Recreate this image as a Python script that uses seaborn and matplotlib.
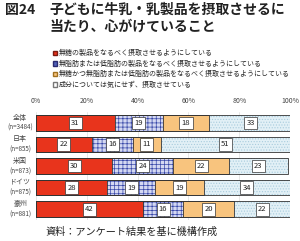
import matplotlib
matplotlib.use("Agg")
import matplotlib.pyplot as plt
import seaborn as sns
import numpy as np
import pandas as pd
from matplotlib.patches import Patch

countries = ["全体", "日本", "米国", "ドイツ", "豪州"]
n_labels = ["(n=3484)", "(n=855)", "(n=873)", "(n=875)", "(n=881)"]
s1 = [31, 22, 30, 28, 42]
s2 = [19, 16, 24, 19, 16]
s3 = [18, 11, 22, 19, 20]
s4 = [33, 51, 23, 34, 22]
series_names = [
    "無糖の製品をなるべく摂取させるようにしている",
    "無脂肪または低脂肪の製品をなるべく摂取させるようにしている",
    "無糖かつ無脂肪または低脂肪の製品をなるべく摂取させるようにしている",
    "成分については気にせず、摂取させている",
]
ticks = [0, 20, 40, 60, 80, 100]
tick_labels = ["0%", "20%", "40%", "60%", "80%", "100%"]

sns.set_theme(style="white")
plt.rcParams['font.family'] = ['Noto Sans CJK JP', 'DejaVu Sans']
plt.rcParams['hatch.linewidth'] = 0.5

fig = plt.figure(figsize=(3.0, 2.41), dpi=100)
ax = fig.add_axes([0.12, 0.087, 0.847, 0.448])

vals = np.array([s1, s2, s3, s4], dtype=float)
cum = np.cumsum(vals, axis=0)
face = ["#E8341C", "#D4D8F2", "#F8C47E", "#E2F0F6"]
hatchc = [None, "#3646A8", None, "#A9CCDD"]
hatches = [None, "++++", None, "......"]

# draw from back to front (cumulative)
for k in range(3, -1, -1):
    df = pd.DataFrame({"cat": countries, "v": cum[k]})
    sns.barplot(data=df, y="cat", x="v", orient="h", ax=ax, color=face[k],
                saturation=1, width=0.72,
                edgecolor=hatchc[k] if hatchc[k] else face[k],
                hatch=hatches[k], linewidth=0)
# outlines
for k in range(3, -1, -1):
    df = pd.DataFrame({"cat": countries, "v": cum[k]})
    sns.barplot(data=df, y="cat", x="v", orient="h", ax=ax, fill=False,
                width=0.72, edgecolor="#333333", linewidth=0.6)

for k in range(4):
    for i in range(len(countries)):
        start = cum[k][i] - vals[k][i]
        ax.text(start + vals[k][i] / 2, i, f"{int(vals[k][i])}", ha="center", va="center",
                fontsize=5.5, color="#222222",
                bbox=dict(boxstyle="square,pad=0.3", fc="white", ec="#333333", lw=0.5))

ax.set_xlim(0, 100)
ax.set_ylim(4.5, -0.5)
ax.set_xticks(ticks)
ax.set_xticklabels(tick_labels, fontsize=5, color="#444444")
ax.xaxis.tick_top()
ax.tick_params(axis="x", length=0, pad=5)
ax.set_yticks([])
ax.set_xlabel("")
ax.set_ylabel("")
for sp in ax.spines.values():
    sp.set_visible(False)
ax.set_axisbelow(True)
ax.grid(axis="x", color="#DDDDDD", linewidth=0.5)

for i in range(len(countries)):
    ax.text(-0.062, i - 0.24, countries[i], transform=ax.get_yaxis_transform(),
            ha="center", va="center", fontsize=5, color="#444444")
    ax.text(-0.062, i + 0.24, n_labels[i], transform=ax.get_yaxis_transform(),
            ha="center", va="center", fontsize=4.5, color="#444444")

fig.text(0.015, 0.958, "図24", fontsize=10, fontweight="bold", color="#222222", va="center")
fig.text(0.165, 0.958, "子どもに牛乳・乳製品を摂取させるに", fontsize=10, fontweight="bold",
         color="#222222", va="center")
fig.text(0.165, 0.888, "当たり、心がけていること", fontsize=10, fontweight="bold",
         color="#222222", va="center")

handles = [Patch(facecolor=face[0], edgecolor="#7a1a10"),
           Patch(facecolor="#5060B8", edgecolor="#2a2a70"),
           Patch(facecolor=face[2], edgecolor="#a07020"),
           Patch(facecolor="white", edgecolor="#777777")]
fig.legend(handles, series_names, loc="upper left", bbox_to_anchor=(0.175, 0.795),
           frameon=False, fontsize=5.0, handlelength=0.6, handleheight=0.6,
           handletextpad=0.3, labelspacing=0.36, borderpad=0, borderaxespad=0)

fig.text(0.15, 0.037, "資料：アンケート結果を基に機構作成", fontsize=7.3, color="#222222", va="center")

fig.savefig("out.png", dpi=100)
